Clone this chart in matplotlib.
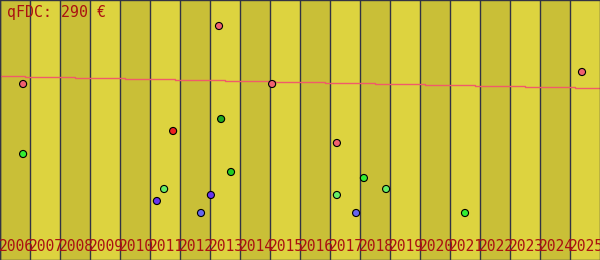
import matplotlib
matplotlib.use("Agg")
from matplotlib import pyplot as plt

# years shown as columns
yearList=list(range(2006, 2026))

# price line (steps)
lineDates=[2006.0, 2006.83, 2008.5, 2010.17, 2011.83, 2013.5, 2015.17, 2016.83, 2018.5, 2020.17, 2021.83, 2023.5, 2025.17, 2026.0]
lineVals=[183.7, 182.7, 181.7, 180.7, 179.7, 178.7, 177.7, 176.7, 175.7, 174.7, 173.7, 172.7, 171.7, 171.7]

# single points
pointDates=[2006.77, 2006.77, 2013.3, 2015.07, 2025.4, 2011.77, 2013.37, 2013.7, 2011.47, 2011.23, 2013.03, 2012.7, 2017.23, 2018.13, 2018.87, 2017.23, 2017.87, 2021.5]
pointVals=[176, 106, 234, 176, 188, 129, 141, 88, 71, 59, 65, 47, 117, 82, 71, 65, 47, 47]
pointKinds=["salmon", "bright", "salmon", "salmon", "salmon", "red", "dark", "green", "light", "violet", "violet", "blue", "salmon", "bright", "light", "light", "blue", "bright"]

kindColors={
    "salmon": "#f06070",
    "red": "#ee2020",
    "dark": "#20aa20",
    "green": "#22cc22",
    "light": "#66ee66",
    "bright": "#33ee33",
    "violet": "#6633ee",
    "blue": "#6666ee",
}

title="qFDC: 290 €"

fig=plt.figure(figsize=(6, 2.6), dpi=100)
ax=fig.add_axes([0, 0, 1, 1])
ax.set_xlim(2006, 2026)
ax.set_ylim(0, 260)

# alternating columns
for i, year in enumerate(yearList):
    col="#c9bf37" if i % 2 == 0 else "#ddd33f"
    ax.axvspan(year, year + 1, color=col, linewidth=0, zorder=0)
    ax.axvline(year, color="#333344", linewidth=1.0, zorder=1)
    ax.text(year - 0.05, 9, str(year), ha="left", va="baseline", color="#aa1111",
            fontsize=10.5, family="DejaVu Sans Mono", zorder=5)

ax.plot(lineDates, lineVals, drawstyle="steps-post", color="#f05a6a", linewidth=1.0, zorder=2)

ax.scatter(pointDates, pointVals, c=[kindColors[k] for k in pointKinds], s=26,
           edgecolors="black", linewidths=0.8, zorder=3)

ax.text(0.012, 0.935, title, transform=ax.transAxes, ha="left", va="baseline",
        color="#aa1111", fontsize=10.7, family="DejaVu Sans Mono", zorder=5)

ax.set_xticks([])
ax.set_yticks([])
for sp in ax.spines.values():
    sp.set_color("#333344")
    sp.set_linewidth(1.0)

fig.savefig("out.png", dpi=100)
plt.close()
